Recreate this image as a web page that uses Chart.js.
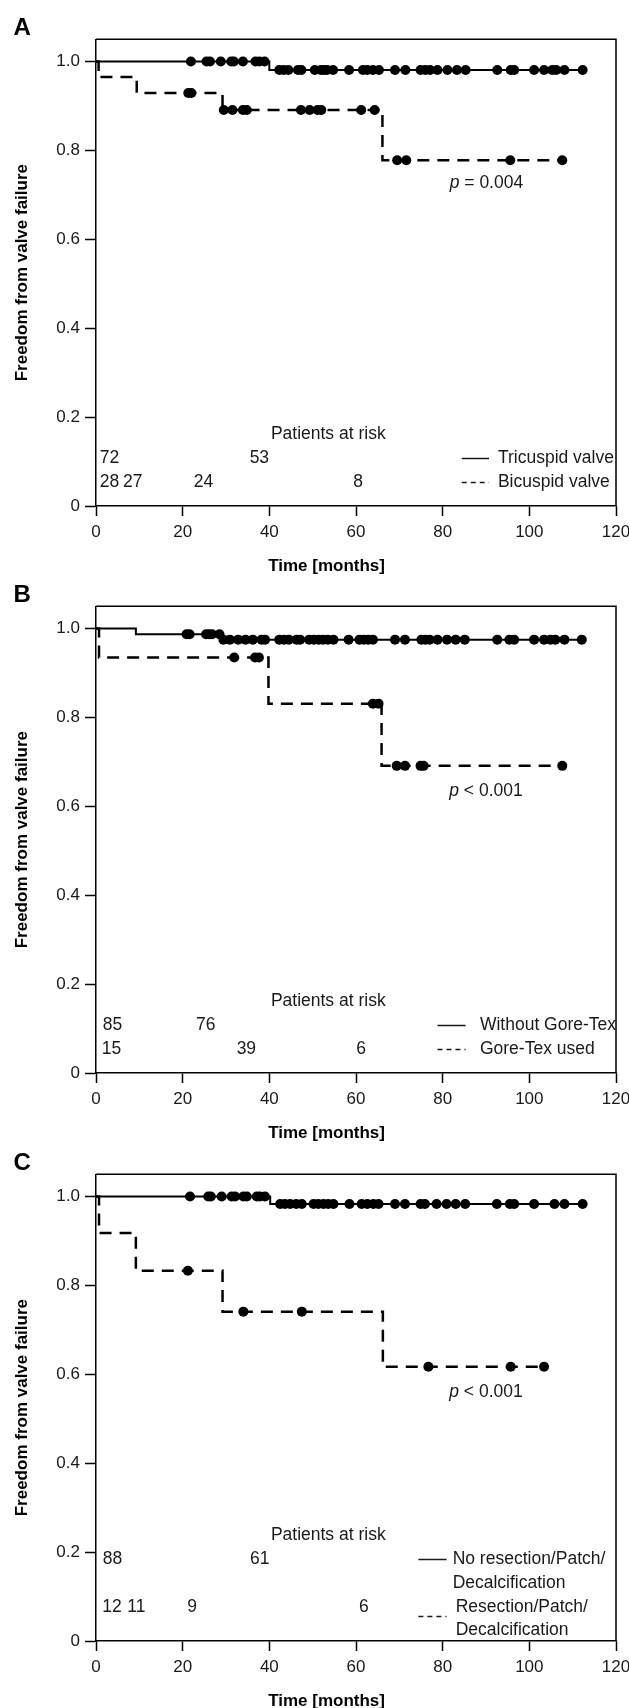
<!DOCTYPE html>
<html>
<head>
<meta charset="utf-8">
<script src="https://cdn.jsdelivr.net/npm/chart.js@4.4.1/dist/chart.umd.min.js"></script>
<style>
  body { margin: 0; width: 629px; height: 1708px; overflow: hidden; background: #fff; position: relative; }
  canvas { position: absolute; left: 0; }
</style>
</head>
<body>
<canvas id="panelA" width="660" height="576" style="top:0px"></canvas>
<canvas id="panelB" width="660" height="576" style="top:567px"></canvas>
<canvas id="panelC" width="660" height="576" style="top:1135px"></canvas>
<script>
const FONT = '"Liberation Sans", Arial, sans-serif';
const INK = "#1a1a1a";

const xTicks = [0, 20, 40, 60, 80, 100, 120];
const yTicks = [0, 0.2, 0.4, 0.6, 0.8, 1.0];

// A: tricuspid vs bicuspid
const aTriTimes = [0, 40.0, 112.3];
const aTriSurv = [1, 0.981, 0.981];
const aTriCensor = [21.9, 25.5, 26.3, 28.8, 31.2, 31.8, 33.9, 36.8, 37.7, 38.9,
  42.3, 43.3, 44.4, 46.6, 47.4, 50.5, 51.9, 52.6, 53.3, 54.7, 58.4, 61.6, 62.6, 63.9, 65.3,
  69.0, 71.4, 74.9, 76.0, 77.1, 78.8, 81.1, 83.3, 85.3, 92.6, 95.7, 96.5, 101.1, 103.4,
  105.3, 106.2, 108.1, 112.3];
const aBiTimes = [0, 0.6, 9.4, 29.2, 66.1, 107.6];
const aBiSurv = [1, 0.965, 0.929, 0.891, 0.778, 0.778];
const aBiCensor = [21.3, 22.0, 29.5, 31.5, 33.9, 34.8, 47.3, 49.3, 51.1, 52.0, 61.2, 64.3,
  69.5, 71.6, 95.6, 107.6];
const aRiskTri = ["72", "53"];
const aRiskTriAt = [3.1, 37.7];
const aRiskBi = ["28", "27", "24", "8"];
const aRiskBiAt = [3.1, 8.5, 24.8, 60.5];

// B: without Gore-Tex vs Gore-Tex used
const bNoTimes = [0, 9.2, 29.0, 112.1];
const bNoSurv = [1, 0.987, 0.975, 0.975];
const bNoCensor = [20.9, 21.6, 25.4, 26.1, 26.8, 28.5,
  29.4, 30.9, 32.8, 34.5, 36.2, 38.2, 39.0, 42.3, 43.4, 44.5, 46.3, 47.1, 49.2, 50.3, 51.4,
  52.4, 53.5, 54.8, 58.3, 60.8, 61.8, 62.8, 63.9, 69.0, 71.3, 75.1, 76.0, 77.0, 78.8, 81.0,
  83.0, 85.1, 92.6, 95.4, 96.5, 101.1, 103.4, 104.9, 106.0, 108.1, 112.1];
const bGoreTimes = [0, 0.7, 39.8, 65.9, 107.6];
const bGoreSurv = [1, 0.935, 0.831, 0.691, 0.691];
const bGoreCensor = [31.9, 36.7, 37.6, 63.9, 65.2, 69.4, 71.3, 74.9, 75.6, 107.6];
const bRiskNo = ["85", "76"];
const bRiskNoAt = [3.8, 25.3];
const bRiskGore = ["15", "39", "6"];
const bRiskGoreAt = [3.6, 34.7, 61.2];

// C: no resection/patch/decalcification vs resection/patch/decalcification
const cNoTimes = [0, 40.2, 112.3];
const cNoSurv = [1, 0.983, 0.983];
const cNoCensor = [21.7, 25.9, 26.5, 29.0, 31.3, 32.1, 34.0, 34.8, 37.1, 37.8, 39.0,
  42.5, 43.6, 44.8, 46.2, 47.5, 50.2, 51.3, 52.5, 53.6, 54.8, 58.5, 61.3, 62.6, 64.0, 65.2,
  69.0, 71.3, 74.9, 75.9, 78.6, 80.9, 83.0, 85.2, 92.5, 95.5, 96.5, 101.1, 105.8, 108.1, 112.3];
const cResTimes = [0, 0.7, 9.2, 29.2, 66.2, 103.4];
const cResSurv = [1, 0.918, 0.833, 0.741, 0.617, 0.617];
const cResCensor = [21.2, 34.0, 47.5, 76.7, 95.7, 103.4];
const cRiskNo = ["88", "61"];
const cRiskNoAt = [3.8, 37.8];
const cRiskRes = ["12", "11", "9", "6"];
const cRiskResAt = [3.7, 9.3, 22.2, 61.8];

const survAt = (times, surv, t) => {
  let v = surv[0];
  times.forEach((tt, i) => { if (tt <= t) v = surv[i]; });
  return v;
};

const stepPoints = (times, surv) => times.map((t, i) => ({ x: t, y: surv[i] }));
const censorPoints = (times, surv, cens) => cens.map(t => ({ x: t, y: survAt(times, surv, t) }));

const drawText = (ctx, text, x, y, align) => {
  ctx.textAlign = align || "center";
  ctx.fillText(text, x, y);
};

const kmText = {
  id: "kmText",
  afterDraw(chart, args, o) {
    const { ctx, chartArea: ca, scales: { x, y } } = chart;
    ctx.save();
    // frame top + right
    ctx.strokeStyle = "#000";
    ctx.lineWidth = 1.5;
    ctx.beginPath();
    ctx.moveTo(ca.left, ca.top);
    ctx.lineTo(ca.right, ca.top);
    ctx.lineTo(ca.right, ca.bottom);
    ctx.stroke();

    ctx.fillStyle = "#000";
    ctx.textBaseline = "alphabetic";
    ctx.font = "bold 24px " + FONT;
    drawText(ctx, o.letter, 13.5, ca.top - 4, "left");

    ctx.textBaseline = "middle";
    ctx.font = "bold 17px " + FONT;
    drawText(ctx, "Time [months]", x.getPixelForValue(53.2), ca.bottom + 60);

    ctx.fillStyle = INK;
    ctx.font = "17.5px " + FONT;
    drawText(ctx, "Patients at risk", x.getPixelForValue(53.6), y.getPixelForValue(o.headY));
    o.rows.forEach(r => {
      r.labels.forEach((lab, i) => drawText(ctx, lab, x.getPixelForValue(r.at[i]), y.getPixelForValue(r.y)));
      r.text.forEach((line, i) =>
        drawText(ctx, line, x.getPixelForValue(r.textX), y.getPixelForValue(r.textY[i]), "left"));
      ctx.strokeStyle = INK;
      ctx.lineWidth = 1.5;
      ctx.setLineDash(r.dashed ? [5, 4] : []);
      ctx.beginPath();
      const ly = Math.round(y.getPixelForValue(r.lineY)) + 0.5;
      ctx.moveTo(x.getPixelForValue(o.sample[0]), ly);
      ctx.lineTo(x.getPixelForValue(o.sample[1]), ly);
      ctx.stroke();
      ctx.setLineDash([]);
    });

    // p value with italic p
    ctx.font = "italic 17.5px " + FONT;
    const wp = ctx.measureText("p").width;
    ctx.font = "17.5px " + FONT;
    const wr = ctx.measureText(o.pText).width;
    const px = x.getPixelForValue(o.pAt[0]) - (wp + wr) / 2;
    const py = y.getPixelForValue(o.pAt[1]);
    ctx.font = "italic 17.5px " + FONT;
    drawText(ctx, "p", px, py, "left");
    ctx.font = "17.5px " + FONT;
    drawText(ctx, o.pText, px + wp, py, "left");
    ctx.restore();
  }
};

const makePanel = (id, solid, dashed, notes) => {
  new Chart(document.getElementById(id), {
    type: "line",
    data: {
      datasets: [
        {
          type: "scatter", data: solid.censor, order: 0,
          pointRadius: 5, pointBackgroundColor: "#000", pointBorderWidth: 0
        },
        {
          type: "scatter", data: dashed.censor, order: 0,
          pointRadius: 5, pointBackgroundColor: "#000", pointBorderWidth: 0
        },
        {
          label: solid.label, data: solid.steps, stepped: true, order: 1,
          borderColor: "#000", borderWidth: 2, pointRadius: 0, fill: false
        },
        {
          label: dashed.label, data: dashed.steps, stepped: true, order: 1,
          borderColor: "#000", borderWidth: 2.5, borderDash: [12, 8], pointRadius: 0, fill: false
        }
      ]
    },
    options: {
      responsive: false,
      animation: false,
      devicePixelRatio: 1,
      layout: { padding: { left: 0, right: 44, top: 39.3, bottom: 0 } },
      plugins: {
        legend: { display: false },
        tooltip: { enabled: false },
        kmText: notes
      },
      scales: {
        x: {
          type: "linear", min: 0, max: 120,
          afterBuildTicks: s => { s.ticks = xTicks.map(v => ({ value: v })); },
          afterFit: s => { s.height = 70; },
          ticks: { color: INK, padding: 6, font: { family: FONT, size: 17 } },
          grid: { drawOnChartArea: false, drawTicks: true, tickLength: 10, tickColor: "#000", tickWidth: 1.5 },
          border: { display: true, color: "#000", width: 1.5 }
        },
        y: {
          type: "linear", min: 0, max: 1.05,
          afterBuildTicks: s => { s.ticks = yTicks.map(v => ({ value: v })); },
          afterFit: s => { s.width = 96; },
          ticks: {
            color: INK, padding: 5, font: { family: FONT, size: 17 },
            callback: v => (v === 0 ? "0" : v.toFixed(1))
          },
          title: {
            display: true, text: "Freedom from valve failure", color: "#000",
            font: { family: FONT, size: 17, weight: "bold" }, padding: { top: 12, bottom: 0 }
          },
          grid: { drawOnChartArea: false, drawTicks: true, tickLength: 11, tickColor: "#000", tickWidth: 1.5 },
          border: { display: true, color: "#000", width: 1.5 }
        }
      }
    },
    plugins: [kmText]
  });
};

document.addEventListener("DOMContentLoaded", () => {
  makePanel("panelA",
    { label: "Tricuspid valve", steps: stepPoints(aTriTimes, aTriSurv), censor: censorPoints(aTriTimes, aTriSurv, aTriCensor) },
    { label: "Bicuspid valve", steps: stepPoints(aBiTimes, aBiSurv), censor: censorPoints(aBiTimes, aBiSurv, aBiCensor) },
    {
      letter: "A", headY: 0.162, sample: [84.4, 90.7], pText: " = 0.004", pAt: [90.1, 0.726],
      rows: [
        { labels: aRiskTri, at: aRiskTriAt, y: 0.107, text: ["Tricuspid valve"], textX: 92.75, textY: [0.107], lineY: 0.107, dashed: false },
        { labels: aRiskBi, at: aRiskBiAt, y: 0.0547, text: ["Bicuspid valve"], textX: 92.75, textY: [0.0547], lineY: 0.0547, dashed: true }
      ]
    });

  makePanel("panelB",
    { label: "Without Gore-Tex", steps: stepPoints(bNoTimes, bNoSurv), censor: censorPoints(bNoTimes, bNoSurv, bNoCensor) },
    { label: "Gore-Tex used", steps: stepPoints(bGoreTimes, bGoreSurv), censor: censorPoints(bGoreTimes, bGoreSurv, bGoreCensor) },
    {
      letter: "B", headY: 0.162, sample: [78.8, 85.3], pText: " < 0.001", pAt: [90.0, 0.634],
      rows: [
        { labels: bRiskNo, at: bRiskNoAt, y: 0.107, text: ["Without Gore-Tex"], textX: 88.6, textY: [0.107], lineY: 0.107, dashed: false },
        { labels: bRiskGore, at: bRiskGoreAt, y: 0.0547, text: ["Gore-Tex used"], textX: 88.6, textY: [0.0547], lineY: 0.0547, dashed: true }
      ]
    });

  makePanel("panelC",
    { label: "No resection/Patch/Decalcification", steps: stepPoints(cNoTimes, cNoSurv), censor: censorPoints(cNoTimes, cNoSurv, cNoCensor) },
    { label: "Resection/Patch/Decalcification", steps: stepPoints(cResTimes, cResSurv), censor: censorPoints(cResTimes, cResSurv, cResCensor) },
    {
      letter: "C", headY: 0.238, sample: [74.4, 80.9], pText: " < 0.001", pAt: [90.0, 0.56],
      rows: [
        { labels: cRiskNo, at: cRiskNoAt, y: 0.183, text: ["No resection/Patch/", "Decalcification"], textX: 82.3, textY: [0.183, 0.131], lineY: 0.1855, dashed: false },
        { labels: cRiskRes, at: cRiskResAt, y: 0.075, text: ["Resection/Patch/", "Decalcification"], textX: 83.0, textY: [0.075, 0.024], lineY: 0.0556, dashed: true }
      ]
    });
});
</script>
</body>
</html>
